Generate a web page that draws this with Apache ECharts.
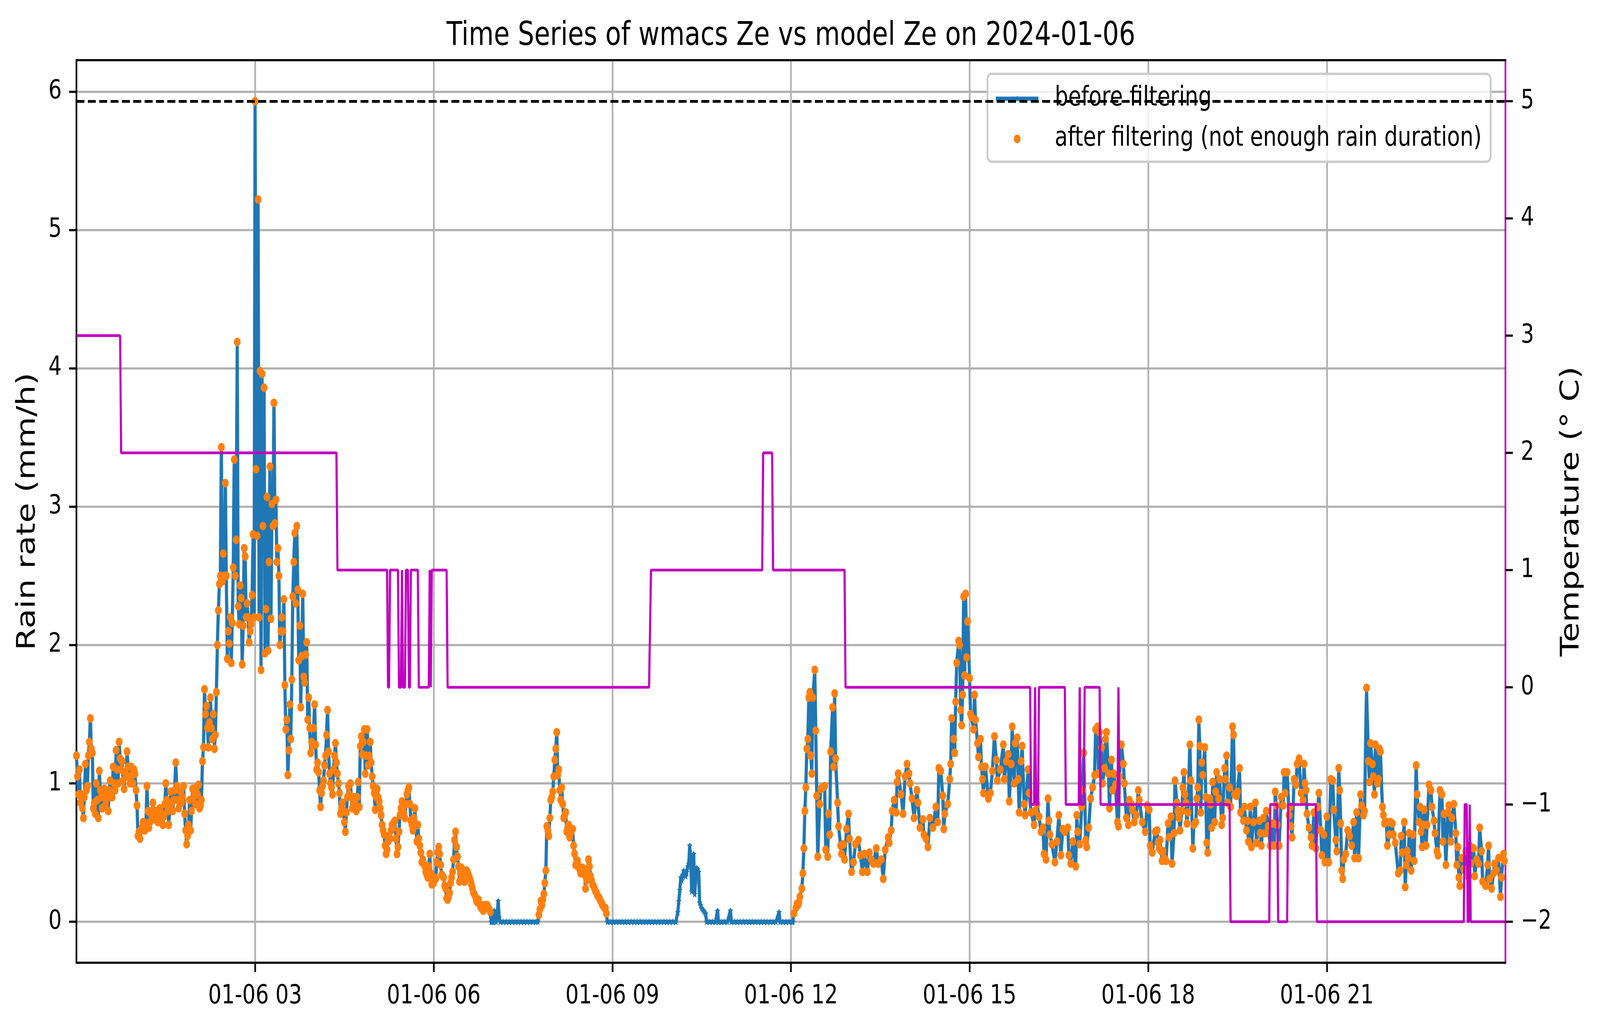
<!DOCTYPE html>
<html>
<head>
<meta charset="utf-8">
<title>Time Series of wmacs Ze vs model Ze on 2024-01-06</title>
<script src="https://cdn.jsdelivr.net/npm/echarts@6.0.0/dist/echarts.min.js"></script>
<style>
  html, body { margin: 0; padding: 0; background: #fff; overflow: hidden; }
  #chart { width: 5211px; height: 2631px; transform-origin: 0 0; }
</style>
</head>
<body>
<div id="chart"></div>
<script>
// rain rate (mm/h) before filtering, [minute of day, value]
const rain00to06 = [
  [0,1.2],[1,1.05],[2,0.92],[3,1.1],[4,0.86],[5,0.92],[6,0.82],[7,0.75],[8,0.9],[9,1.14],[10,0.95],[11,0.98],[12,1.2],[13,1.3],[14,1.47],[15,1.25],[16,1.22],[17,0.82],[18,0.86],[19,0.78],
  [20,1.0],[21,0.88],[22,0.75],[23,1.09],[24,0.95],[25,0.9],[26,0.82],[27,0.95],[28,0.96],[29,0.84],[30,0.88],[31,0.92],[32,0.8],[33,0.95],[34,1.02],[35,0.92],[36,0.9],[37,1.12],[38,1.0],[39,0.95],
  [40,1.24],[41,1.1],[42,1.0],[43,1.3],[44,1.18],[45,1.1],[46,1.16],[47,1.02],[48,0.96],[49,1.08],[50,1.05],[51,1.23],[52,1.12],[53,1.05],[54,1.0],[55,1.12],[56,1.06],[57,1.0],[58,1.1],[59,1.07],
  [60,0.95],[61,0.84],[62,0.62],[63,0.65],[64,0.6],[65,0.66],[66,0.68],[67,0.72],[68,0.72],[69,0.66],[70,0.7],[71,0.98],[72,0.8],[73,0.68],[74,0.72],[75,0.78],[76,0.8],[77,0.86],[78,0.8],[79,0.74],
  [80,0.8],[81,0.76],[82,0.72],[83,0.76],[84,0.82],[85,0.76],[86,0.78],[87,0.7],[88,0.76],[89,0.85],[90,1.0],[91,0.88],[92,0.8],[93,0.7],[94,0.82],[95,0.94],[96,0.86],[97,0.8],[98,0.88],[99,0.95],
  [100,1.15],[101,0.98],[102,0.88],[103,0.82],[104,0.86],[105,0.94],[106,0.86],[107,0.9],[108,0.98],[109,0.78],[110,0.66],[111,0.56],[112,0.62],[113,0.7],[114,0.88],[115,0.66],[116,0.8],[117,0.96],[118,0.9],[119,0.92],
  [120,0.85],[121,0.97],[122,0.92],[123,0.99],[124,0.82],[125,0.84],[126,0.88],[127,1.16],[128,1.26],[129,1.68],[130,1.5],[131,1.56],[132,1.4],[133,1.26],[134,1.44],[135,1.62],[136,1.4],[137,1.32],[138,1.5],[139,1.25],
  [140,1.35],[141,1.66],[142,2.0],[143,2.25],[144,2.44],[145,2.5],[146,3.43],[147,2.46],[148,2.66],[149,2.5],[150,3.17],[151,2.5],[152,1.9],[153,2.1],[154,2.01],[155,2.2],[156,1.87],[157,2.16],[158,2.56],[159,3.34],
  [160,2.5],[161,2.76],[162,4.19],[163,2.28],[164,2.15],[165,2.43],[166,2.34],[167,1.86],[168,2.14],[169,2.7],[170,2.64],[171,2.2],[172,2.3],[173,2.2],[174,2.02],[175,2.1],[176,2.15],[177,2.36],[178,2.8],[179,2.2],
  [180,5.93],[181,3.27],[182,2.79],[183,5.22],[184,2.2],[185,3.98],[186,1.82],[187,3.96],[188,2.86],[189,3.86],[190,1.94],[191,2.26],[192,3.07],[193,1.96],[194,2.6],[195,3.29],[196,2.19],[197,3.02],[198,2.86],[199,3.75],
  [200,2.88],[201,3.05],[202,2.6],[203,2.7],[204,2.5],[205,2.0],[206,2.1],[207,2.2],[208,2.1],[209,2.33],[210,1.71],[211,1.39],[212,1.46],[213,1.06],[214,1.24],[215,1.57],[216,1.32],[217,1.75],[218,2.35],[219,2.6],
  [220,2.81],[221,2.3],[222,2.86],[223,2.4],[224,1.89],[225,2.14],[226,1.55],[227,1.92],[228,2.37],[229,1.77],[230,1.73],[231,1.93],[232,2.02],[233,1.46],[234,1.62],[235,1.4],[236,1.22],[237,1.3],[238,1.27],[239,1.4],
  [240,1.57],[241,1.28],[242,1.1],[243,1.15],[244,1.08],[245,0.95],[246,0.83],[247,0.93],[248,0.98],[249,1.02],[250,1.13],[251,1.2],[252,1.35],[253,1.53],[254,1.23],[255,1.07],[256,1.0],[257,0.97],[258,0.92],[259,1.1],
  [260,1.2],[261,1.29],[262,1.15],[263,1.07],[264,1.0],[265,0.93],[266,0.78],[267,0.82],[268,0.86],[269,0.8],[270,0.72],[271,0.65],[272,0.79],[273,0.9],[274,0.98],[275,0.92],[276,1.0],[277,0.9],[278,0.82],[279,0.86],
  [280,0.9],[281,0.85],[282,0.8],[283,0.9],[284,1.01],[285,0.83],[286,1.27],[287,1.34],[288,1.21],[289,1.3],[290,1.39],[291,1.07],[292,1.2],[293,1.39],[294,1.13],[295,1.2],[296,1.3],[297,1.15],[298,1.05],[299,0.98],
  [300,0.93],[301,0.81],[302,0.9],[303,0.96],[304,0.9],[305,0.87],[306,0.82],[307,0.77],[308,0.7],[309,0.66],[310,0.63],[311,0.55],[312,0.49],[313,0.52],[314,0.58],[315,0.62],[316,0.6],[317,0.66],[318,0.7],[319,0.68],
  [320,0.72],[321,0.73],[322,0.6],[323,0.49],[324,0.54],[325,0.65],[326,0.77],[327,0.82],[328,0.87],[329,0.8],[330,0.78],[331,0.75],[332,0.85],[333,0.92],[334,0.95],[335,0.97],[336,0.85],[337,0.73],[338,0.7],[339,0.66],
  [340,0.75],[341,0.82],[342,0.7],[343,0.58],[344,0.7],[345,0.6],[346,0.55],[347,0.5],[348,0.43],[349,0.45],[350,0.42],[351,0.4],[352,0.36],[353,0.34],[354,0.32],[355,0.4],[356,0.49],[357,0.35],[358,0.27],[359,0.3]
];
const rain06to12 = [
  [360,0.28],[361,0.32],[362,0.31],[363,0.43],[364,0.5],[365,0.54],[366,0.49],[367,0.41],[368,0.34],[369,0.33],[370,0.32],[371,0.26],[372,0.24],[373,0.17],[374,0.16],[375,0.18],[376,0.21],[377,0.28],[378,0.32],[379,0.36],
  [380,0.45],[381,0.59],[382,0.65],[383,0.54],[384,0.47],[385,0.4],[386,0.29],[387,0.35],[388,0.39],[389,0.37],[390,0.33],[391,0.29],[392,0.33],[393,0.37],[394,0.36],[395,0.34],[396,0.32],[397,0.3],[398,0.27],[399,0.24],
  [400,0.21],[401,0.2],[402,0.18],[403,0.15],[404,0.14],[405,0.16],[406,0.13],[407,0.11],[408,0.1],[409,0.09],[410,0.08],[411,0.12],[412,0.11],[413,0.1],[414,0.12],[415,0.1],[416,0.09],[417,0.07],[418,0],[419,0],
  [420,0],[421,0.08],[422,0.04],[423,0],[424,0.06],[425,0.15],[426,0.03],[427,0],[430,0],[433,0],[436,0],[439,0],[442,0],[445,0],[448,0],[451,0],[454,0],[457,0],[460,0],[463,0],
  [465,0],[466,0.05],[467,0.09],[468,0.15],[469,0.12],[470,0.16],[471,0.2],[472,0.28],[473,0.37],[474,0.69],[475,0.66],[476,0.62],[477,0.75],[478,0.88],[479,0.9],[480,0.94],[481,1.05],[482,1.17],[483,1.25],[484,1.37],
  [485,1.06],[486,1.1],[487,0.95],[488,0.88],[489,0.97],[490,0.85],[491,0.75],[492,0.77],[493,0.79],[494,0.65],[495,0.68],[496,0.7],[497,0.61],[498,0.64],[499,0.66],[500,0.67],[501,0.55],[502,0.49],[503,0.41],[504,0.43],
  [505,0.44],[506,0.4],[507,0.38],[508,0.35],[509,0.37],[510,0.39],[511,0.36],[512,0.34],[513,0.24],[514,0.3],[515,0.38],[516,0.45],[517,0.4],[518,0.33],[519,0.3],[520,0.27],[521,0.26],[522,0.24],[523,0.22],[524,0.21],
  [525,0.19],[526,0.18],[527,0.17],[528,0.15],[529,0.14],[530,0.12],[531,0.11],[532,0.1],[533,0.1],[534,0.06],[535,0],[538,0],[541,0],[544,0],[547,0],[550,0],[553,0],[556,0],[559,0],[562,0],
  [565,0],[568,0],[571,0],[574,0],[577,0],[580,0],[583,0],[586,0],[589,0],[592,0],[595,0],[598,0],[601,0],[604,0],[606,0.07],[607,0.15],[608,0.23],[609,0.32],[610,0.3],[611,0.34],
  [612,0.37],[613,0.35],[614,0.33],[615,0.36],[616,0.4],[617,0.42],[618,0.55],[619,0.45],[620,0.22],[621,0.35],[622,0.49],[623,0.2],[624,0.3],[625,0.39],[626,0.38],[627,0.36],[628,0.14],[629,0.12],[630,0.1],[631,0.09],
  [632,0.08],[633,0.07],[634,0.06],[635,0],[638,0],[641,0],[644,0],[646,0.08],[647,0],[650,0],[653,0],[656,0],[659,0.08],[660,0],[663,0],[666,0],[669,0],[672,0],[675,0],[678,0],
  [681,0],[684,0],[687,0],[690,0],[693,0],[696,0],[699,0],[702,0],[705,0],[708,0.07],[709,0],[712,0],[715,0],[718,0]
];
const rain12to18 = [
  [721,0],[722,0],[723,0.06],[725,0.1],[726,0.13],[727,0.12],[728,0.14],[729,0.18],[731,0.24],[732,0.35],[733,0.53],[734,0.8],[735,0.97],[736,1.25],[737,1.32],[738,1.62],[739,1.66],[740,1.2],[741,1.07],[742,1.62],
  [744,1.82],[745,1.38],[746,0.91],[747,0.47],[749,0.85],[750,0.96],[752,0.97],[754,0.98],[755,0.52],[757,0.47],[758,0.78],[759,0.63],[760,1.23],[762,1.55],[763,1.12],[764,1.65],[765,1.18],[767,0.86],[768,0.69],[770,0.55],
  [771,0.49],[773,0.56],[774,0.45],[776,0.67],[778,0.78],[779,0.6],[781,0.36],[783,0.43],[785,0.56],[788,0.59],[790,0.48],[792,0.36],[794,0.49],[797,0.36],[799,0.5],[801,0.45],[803,0.42],[806,0.53],[808,0.42],[811,0.45],
  [813,0.31],[815,0.52],[818,0.61],[819,0.57],[821,0.66],[822,0.8],[824,0.88],[826,0.79],[827,1.01],[828,1.07],[831,0.92],[833,0.78],[835,1.05],[837,1.14],[839,1.07],[840,1.0],[842,0.89],[844,0.75],[847,0.95],[848,0.86],
  [850,0.68],[853,0.74],[854,0.63],[856,0.6],[858,0.54],[860,0.75],[863,0.68],[866,0.83],[868,0.72],[869,1.11],[871,1.09],[873,0.91],[874,0.67],[875,0.78],[878,0.85],[880,1.03],[881,1.14],[882,1.47],[884,1.32],[885,1.22],
  [886,1.59],[887,1.87],[889,2.03],[890,2.0],[891,1.53],[892,1.42],[893,1.64],[894,2.35],[895,1.78],[896,2.37],[897,1.91],[898,2.17],[900,1.76],[901,1.5],[902,1.48],[904,1.39],[905,1.64],[906,1.46],[908,1.29],[909,1.19],
  [911,1.32],[912,1.12],[913,1.03],[914,0.93],[916,1.12],[919,0.89],[921,0.93],[923,1.09],[925,1.34],[927,1.17],[928,1.02],[931,1.1],[934,1.28],[935,1.03],[937,1.16],[939,1.21],[940,0.87],[942,1.14],[943,1.41],[945,1.0],
  [946,1.29],[948,1.33],[949,1.03],[950,0.79],[952,1.16],[953,1.27],[955,0.85],[956,0.77],[959,1.1],[960,0.93],[962,0.79],[965,0.7],[966,0.8],[968,0.85],[970,0.76],[972,0.65],[974,0.68],[975,0.49],[977,0.45],[979,0.89],
  [980,0.73],[981,0.63],[983,0.56],[986,0.43],[988,0.58],[990,0.77],[992,0.48],[994,0.67],[996,0.65],[999,0.68],[1000,0.48],[1002,0.42],[1004,0.58],[1007,0.4],[1008,0.77],[1009,0.65],[1011,0.56],[1013,0.83],[1014,0.95],[1015,1.22],
  [1017,0.59],[1018,0.54],[1020,0.68],[1022,0.89],[1024,0.97],[1026,1.06],[1027,1.39],[1029,1.41],[1030,1.07],[1031,1.37],[1033,1.26],[1034,1.0],[1036,1.11],[1037,1.32],[1038,1.37],[1040,1.07],[1041,0.82],[1043,1.17],[1044,0.95],[1045,1.07],
  [1047,0.99],[1049,0.72],[1050,0.69],[1051,1.05],[1053,1.28],[1055,1.14],[1056,1.0],[1058,0.75],[1060,0.7],[1061,0.88],[1063,0.85],[1064,0.81],[1066,0.72],[1068,0.77],[1070,0.95],[1071,0.88],[1074,0.72],[1077,0.65]
];
const rain18to24 = [
  [1079,0.84],[1081,0.81],[1082,0.55],[1084,0.5],[1087,0.65],[1089,0.66],[1090,0.57],[1091,0.53],[1092,0.59],[1093,0.51],[1094,0.44],[1095,0.51],[1096,0.46],[1098,0.44],[1100,0.71],[1101,0.61],[1103,0.76],[1104,0.42],[1106,0.64],[1107,1.02],
  [1109,0.86],[1110,0.8],[1111,0.75],[1112,0.66],[1114,0.8],[1115,0.97],[1116,1.08],[1117,0.92],[1118,0.86],[1119,0.71],[1120,0.79],[1122,1.28],[1123,1.02],[1125,0.53],[1126,0.7],[1128,0.72],[1129,0.89],[1130,0.97],[1131,1.46],[1132,1.27],
  [1133,0.79],[1134,1.15],[1135,1.06],[1137,1.26],[1138,0.9],[1139,0.57],[1140,0.5],[1142,0.89],[1143,0.85],[1144,0.68],[1145,1.01],[1147,0.72],[1148,0.94],[1149,1.08],[1151,0.89],[1152,1.03],[1154,0.7],[1155,0.75],[1157,1.11],[1158,1.03],
  [1159,1.2],[1160,0.86],[1162,0.97],[1163,0.83],[1165,1.41],[1166,1.35],[1167,0.92],[1169,0.91],[1170,0.94],[1172,1.11],[1173,0.79],[1176,0.73],[1177,0.83],[1179,0.66],[1180,0.73],[1181,0.58],[1183,0.83],[1184,0.54],[1186,0.72],[1188,0.86],
  [1189,0.57],[1192,0.73],[1193,0.64],[1194,0.55],[1196,0.75],[1198,0.64],[1199,0.8],[1201,0.69],[1203,0.55],[1206,0.71],[1207,0.55],[1208,0.94],[1209,0.84],[1210,0.7],[1212,0.55],[1214,0.9],[1216,0.84],[1217,1.08],[1218,0.93],[1220,1.08],
  [1222,0.77],[1223,0.83],[1224,0.69],[1225,0.61],[1227,1.03],[1229,0.99],[1230,1.14],[1232,1.18],[1234,0.93],[1236,0.88],[1237,1.14],[1238,1.0],[1239,0.95],[1240,0.78],[1242,0.68],[1244,0.61],[1245,0.55],[1247,0.79],[1249,0.53],[1251,0.83],
  [1252,0.93],[1254,0.66],[1255,0.48],[1257,0.63],[1258,0.43],[1260,0.76],[1262,0.43],[1264,1.03],[1266,1.02],[1267,0.81],[1269,0.59],[1270,0.51],[1272,1.11],[1273,0.95],[1274,0.71],[1275,0.37],[1276,0.31],[1277,0.45],[1279,0.49],[1281,0.66],
  [1283,0.62],[1285,0.55],[1287,0.72],[1288,0.46],[1290,0.79],[1292,0.46],[1294,0.92],[1295,0.84],[1297,0.77],[1298,0.8],[1300,1.69],[1302,1.16],[1303,1.01],[1304,1.29],[1306,1.14],[1307,1.05],[1308,0.92],[1309,1.28],[1311,1.0],[1312,1.03],
  [1313,1.25],[1314,1.23],[1316,0.83],[1317,0.77],[1318,0.71],[1320,0.72],[1321,0.55],[1323,0.63],[1324,0.72],[1326,0.71],[1327,0.63],[1329,0.57],[1332,0.35],[1334,0.37],[1335,0.62],[1336,0.5],[1338,0.72],[1339,0.25],[1340,0.41],[1341,0.51],
  [1342,0.46],[1343,0.64],[1345,0.37],[1347,0.63],[1348,0.44],[1350,1.13],[1351,0.92],[1353,0.72],[1354,0.83],[1355,0.65],[1356,0.54],[1357,0.7],[1358,0.81],[1360,0.55],[1361,0.7],[1363,0.99],[1365,0.95],[1366,0.83],[1368,0.73],[1369,0.64],
  [1371,0.51],[1372,0.48],[1374,0.95],[1376,0.92],[1377,0.58],[1378,0.78],[1380,0.41],[1382,0.79],[1383,0.84],[1385,0.58],[1386,0.75],[1388,0.85],[1390,0.64],[1391,0.41],[1392,0.54],[1393,0.32],[1394,0.26],[1396,0.46],[1398,0.38],[1400,0.51],
  [1402,0.33],[1404,0.55],[1405,0.42],[1408,0.53],[1409,0.33],[1411,0.45],[1413,0.42],[1414,0.68],[1416,0.51],[1417,0.29],[1420,0.26],[1422,0.41],[1423,0.55],[1424,0.31],[1426,0.24],[1428,0.35],[1429,0.42],[1431,0.37],[1433,0.46],[1435,0.18],
  [1436,0.32],[1438,0.49],[1439,0.44]
];
// minute spans removed by the filter (not enough rain duration)
const filteredSpans = [[418, 465], [535, 722]];

// temperature step line (deg C): vertices of the line
const tempMinutes = [0,44,45,262,263,313,314,315,316,324,325,327,328,329,331,332,334,335,336,337,344,345,355,356,357,358,373,374,577,579,691,692,701,702,774,775,961,962,965,966,967,969,970,996,997,1010,1011,1012,1015,1016,1031,1032,1049,1050,1051,1162,1163,1202,1203,1210,1211,1220,1221,1249,1250,1398,1399,1401,1402,1403,1404,1405,1440];
const tempValues = [3,3,2,2,1, 1,0,0,1, 1,0,0,1,0,0,1,1,0,0,1, 1,0,0,1,0,1, 1,0, 0,1, 1,2,2,1, 1,0, 0,-1,-1,0,-1,-1,0, 0,-1,-1,0,-1,-1,0, 0,-1,-1,0,-1, -1,-2,-2,-1,-1,-2,-2,-1,-1,-2, -2,-1,-1,-2,-2,-1,-2,-2];
const tempLimit = 5;

const tickMinutes = [180, 360, 540, 720, 900, 1080, 1260];
const tickLabels = ['01-06 03', '01-06 06', '01-06 09', '01-06 12', '01-06 15', '01-06 18', '01-06 21'];
const rainTicks = [0, 1, 2, 3, 4, 5, 6];
const tempTicks = [-2, -1, 0, 1, 2, 3, 4, 5];

const rainBefore = rain00to06.concat(rain06to12, rain12to18, rain18to24);
const rainAfter = rainBefore.filter(([m, v]) =>
  v > 0 && !filteredSpans.some(([a, b]) => m >= a && m <= b));
const temperature = tempMinutes.map((m, i) => [m, tempValues[i]]);

const FONT = 'DejaVu Sans';
const BLUE = '#1f77b4', ORANGE = '#ff7f0e', MAGENTA = '#bf00bf';
const STAR = 'path://M0,-10L2.35,-3.24L9.51,-3.09L3.8,1.24L5.88,8.09L0,4L-5.88,8.09L-3.8,1.24L-9.51,-3.09L-2.35,-3.24Z';

// the chart is laid out for 5211x2631 and fitted to the actual window
const el = document.getElementById('chart');
el.style.transform = 'scale(' + (window.innerWidth / 5211) + ',' + (window.innerHeight / 2631) + ')';
const chart = echarts.init(el, null, { renderer: 'canvas', width: 5211, height: 2631 });

const spine = { show: true, onZero: false, lineStyle: { color: '#000', width: 5.5 } };
const tick = { show: true, length: 24, lineStyle: { color: '#000', width: 5.5 } };
const grid = { show: true, color: '#b0b0b0', width: 5.5 };

chart.setOption({
  animation: false,
  backgroundColor: '#fff',
  textStyle: { fontFamily: FONT },
  grid: { left: 249, right: 308, top: 154, bottom: 167, containLabel: false, outerBoundsMode: 'none' },
  graphic: [{
    type: 'text', x: 2576, y: 93, silent: true,
    style: {
      text: 'Time Series of wmacs Ze vs model Ze on 2024-01-06',
      fontSize: 84, fontFamily: FONT, fill: '#000',
      align: 'center', verticalAlign: 'middle',
      textAlign: 'center', textVerticalAlign: 'middle'
    }
  }],
  legend: {
    orient: 'vertical', left: 3216, top: 189,
    padding: [23, 29, 18, 22],
    itemWidth: 139, itemHeight: 22, itemGap: 22,
    backgroundColor: 'rgba(255,255,255,0.8)',
    borderColor: '#cccccc', borderWidth: 6, borderRadius: 14,
    lineStyle: { width: 10.4 },
    textStyle: { fontSize: 69, color: '#000', fontFamily: FONT, lineHeight: 81, padding: [0, 0, 0, 48] },
    data: ['before filtering', 'after filtering (not enough rain duration)'],
    z: 4
  },
  xAxis: [{
    type: 'value', min: 0, max: 1440,
    axisLine: spine,
    axisTick: Object.assign({ customValues: tickMinutes }, tick),
    axisLabel: {
      customValues: tickMinutes, margin: 52, fontSize: 68, color: '#000', fontFamily: FONT,
      formatter: v => tickLabels[tickMinutes.indexOf(v)] || ''
    },
    splitLine: { show: true, lineStyle: grid }
  }, {
    type: 'value', min: 0, max: 1440, position: 'top',
    axisLine: spine, axisTick: { show: false }, axisLabel: { show: false }, splitLine: { show: false }
  }],
  yAxis: [{
    type: 'value', min: -0.2965, max: 6.227, position: 'left',
    name: 'Rain rate (mm/h)', nameLocation: 'middle', nameGap: 116, nameMoveOverlap: false,
    nameTextStyle: { fontSize: 83, color: '#000', fontFamily: FONT },
    axisLine: spine,
    axisTick: Object.assign({ customValues: rainTicks }, tick),
    axisLabel: { customValues: rainTicks, margin: 48, fontSize: 68, color: '#000', fontFamily: FONT },
    splitLine: { show: true, lineStyle: grid }
  }, {
    type: 'value', min: -2.35, max: 5.35, position: 'right',
    name: 'Temperature (° C)', nameLocation: 'middle', nameGap: 175, nameMoveOverlap: false,
    nameTextStyle: { fontSize: 83, color: '#000', fontFamily: FONT },
    axisLine: { show: true, onZero: false, lineStyle: { color: MAGENTA, width: 5.5 } },
    axisTick: Object.assign({ customValues: tempTicks }, tick),
    axisLabel: {
      customValues: tempTicks, margin: 50, fontSize: 68, color: '#000', fontFamily: FONT,
      formatter: v => (v < 0 ? '\u2212' + Math.abs(v) : String(v))
    },
    splitLine: { show: false }
  }],
  series: [{
    name: 'before filtering',
    type: 'line', xAxisIndex: 0, yAxisIndex: 0,
    data: rainBefore,
    symbol: STAR, symbolSize: 19, showSymbol: true, showAllSymbol: true,
    itemStyle: { color: BLUE },
    lineStyle: { color: BLUE, width: 10.4, join: 'round' },
    emphasis: { disabled: true },
    z: 2
  }, {
    name: 'after filtering (not enough rain duration)',
    type: 'scatter', xAxisIndex: 0, yAxisIndex: 0,
    data: rainAfter,
    symbol: 'circle', symbolSize: 22,
    itemStyle: { color: ORANGE, opacity: 1 },
    emphasis: { disabled: true },
    z: 3
  }, {
    name: 'Temperature',
    type: 'line', xAxisIndex: 0, yAxisIndex: 1,
    data: temperature,
    symbol: 'none',
    lineStyle: { color: MAGENTA, width: 7 },
    emphasis: { disabled: true },
    markLine: {
      silent: true, symbol: 'none', label: { show: false },
      lineStyle: { color: '#000', width: 7, type: [26, 11] },
      data: [{ yAxis: tempLimit }]
    },
    z: 6
  }]
});
</script>
</body>
</html>
